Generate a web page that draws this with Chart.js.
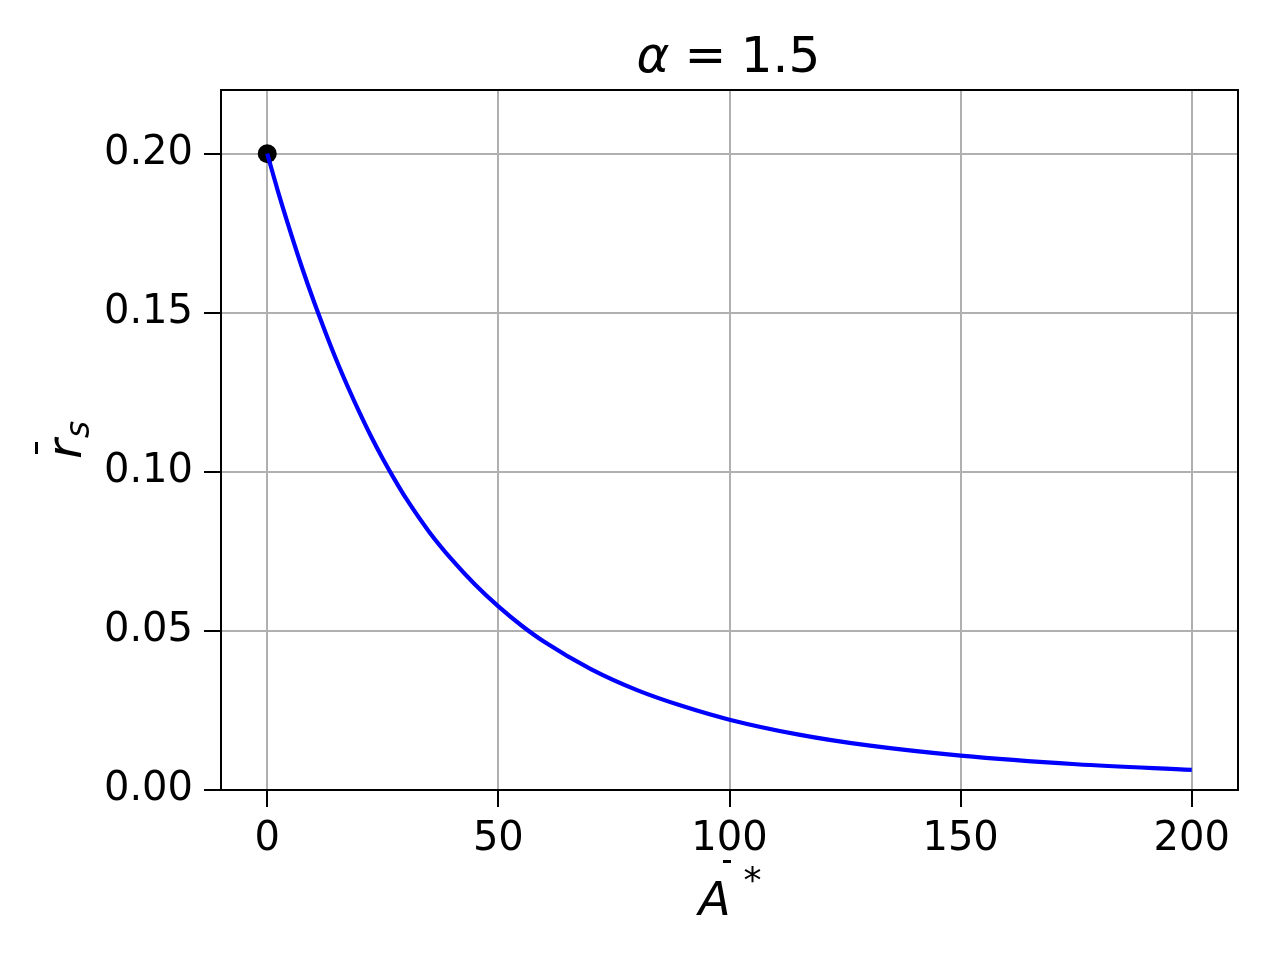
<!DOCTYPE html>
<html>
<head>
<meta charset="utf-8">
<title>alpha = 1.5</title>
<script src="https://cdn.jsdelivr.net/npm/chart.js@4.4.4/dist/chart.umd.min.js"></script>
<style>
    html, body { margin: 0; padding: 0; background: #fff; }
    #wrap { width: 1280px; height: 960px; }
</style>
</head>
<body>
<div id="wrap"><canvas id="chart" width="1280" height="960"></canvas></div>
<script>
// values
const aStar = [0, 2.5, 5, 7.5, 10, 12.5, 15, 17.5, 20, 22.5, 25, 27.5, 30, 35, 40, 45, 50, 55, 60, 70,
    80, 90, 100, 115, 130, 150, 175, 200];
const rBar = [0.2000, 0.1873, 0.1755, 0.1643, 0.1539, 0.1442, 0.1350, 0.1265, 0.1185, 0.1110, 0.1041,
    0.0977, 0.0917, 0.0812, 0.0723, 0.0645, 0.0577, 0.0517, 0.0465, 0.0380, 0.0314, 0.0263, 0.0221,
    0.0174, 0.0140, 0.0108, 0.0081, 0.0063];

// black marker at the start point
const markerX = [0];
const markerY = [0.2];

const xTicks = [0, 50, 100, 150, 200];
const yTicks = [0, 0.05, 0.1, 0.15, 0.2];
const xRange = [-10, 210];
const yRange = [0, 0.22];

const FONT = "'DejaVu Sans', sans-serif";

function toPoints(xs, ys) {
    return xs.map((x, i) => ({x: x, y: ys[i]}));
}

// frame on all four sides, plus the mathtext-like title and axis labels
const mathText = {
    id: "mathText",
    afterDatasetsDraw(chart) {
        const {ctx, chartArea: area} = chart;
        ctx.save();
        ctx.strokeStyle = "#000";
        ctx.lineWidth = 2;
        ctx.strokeRect(area.left, area.top, area.right - area.left, area.bottom - area.top);
        ctx.restore();
    },
    afterDraw(chart) {
        const {ctx, chartArea: area} = chart;
        const cx = (area.left + area.right) / 2;
        const cy = (area.top + area.bottom) / 2;
        ctx.save();
        ctx.fillStyle = "#000";
        ctx.textBaseline = "alphabetic";

        // title: alpha = 1.5
        ctx.font = "italic 50px " + FONT;
        ctx.textAlign = "left";
        ctx.fillText("α", cx - 93, 72);
        ctx.font = "50px " + FONT;
        ctx.textAlign = "center";
        ctx.fillText("=", cx - 24, 72);
        ctx.fillText("1.5", cx + 51, 72);

        // x label: A-bar star
        ctx.textAlign = "left";
        ctx.font = "italic 47px " + FONT;
        ctx.fillText("A", cx - 31, 915);
        ctx.fillRect(cx - 6.5, 860, 8, 3);
        ctx.font = "36px " + FONT;
        ctx.fillText("*", cx + 14, 892);

        // y label: r-bar sub s, rotated
        ctx.translate(81, cy + 19);
        ctx.rotate(-Math.PI / 2);
        ctx.font = "italic 48px " + FONT;
        ctx.fillText("r", 0, 0);
        ctx.fillRect(5, -46, 12, 3);
        ctx.font = "italic 33px " + FONT;
        ctx.fillText("s", 21, 8);
        ctx.restore();
    }
};

const ctx = document.getElementById("chart").getContext("2d");

new Chart(ctx, {
    type: "line",
    data: {
        datasets: [
            {
                label: "r_s",
                data: toPoints(aStar, rBar),
                borderColor: "#0000ff",
                borderWidth: 4.2,
                pointRadius: 0,
                fill: false,
                cubicInterpolationMode: "monotone",
                order: 1,
            },
            {
                label: "start",
                data: toPoints(markerX, markerY),
                showLine: false,
                pointRadius: 9.5,
                pointBackgroundColor: "#000",
                pointBorderWidth: 0,
                order: 2,
            },
        ],
    },
    options: {
        responsive: false,
        animation: false,
        devicePixelRatio: 1,
        layout: {padding: {left: 0, right: 42, top: 90, bottom: 0}},
        plugins: {
            legend: {display: false},
            title: {display: false},
            tooltip: {enabled: false},
        },
        scales: {
            x: {
                type: "linear",
                min: xRange[0],
                max: xRange[1],
                afterBuildTicks: (scale) => {
                    scale.ticks = xTicks.map((v) => ({value: v}));
                },
                afterFit: (scale) => {
                    scale.height = 170;
                },
                grid: {
                    color: "#b0b0b0",
                    lineWidth: 2,
                    tickColor: "#000",
                    tickWidth: 2,
                    tickLength: 17,
                },
                border: {display: true, color: "#000", width: 2},
                ticks: {
                    color: "#000",
                    padding: 9,
                    maxRotation: 0,
                    font: {family: FONT, size: 40},
                    callback: (v) => String(v),
                },
            },
            y: {
                type: "linear",
                min: yRange[0],
                max: yRange[1],
                afterBuildTicks: (scale) => {
                    scale.ticks = yTicks.map((v) => ({value: v}));
                },
                afterFit: (scale) => {
                    scale.width = 221;
                },
                grid: {
                    color: "#b0b0b0",
                    lineWidth: 2,
                    tickColor: "#000",
                    tickWidth: 2,
                    tickLength: 17,
                },
                border: {display: true, color: "#000", width: 2},
                ticks: {
                    color: "#000",
                    padding: 11,
                    font: {family: FONT, size: 40},
                    callback: (v) => v.toFixed(2),
                },
            },
        },
    },
    plugins: [mathText],
});
</script>
</body>
</html>
